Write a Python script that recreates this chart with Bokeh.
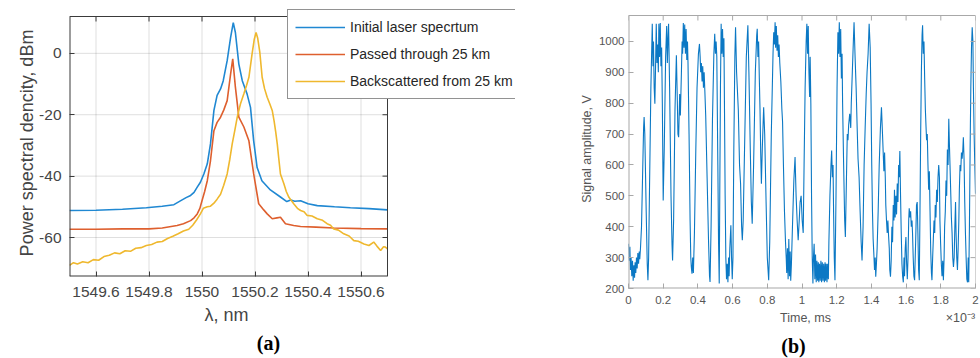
from bokeh.plotting import figure
from bokeh.models import Range1d, FixedTicker, Legend, LegendItem, LinearAxis
from bokeh.layouts import row
from bokeh.embed import file_html
from bokeh.resources import INLINE

# ---------------- Panel (a): spectra ----------------
wl_initial = [1549.50, 1549.60, 1549.70, 1549.79, 1549.85, 1549.894, 1549.92, 1549.94, 1549.957,
              1549.97, 1549.982, 1549.994, 1550.007, 1550.02, 1550.032, 1550.045, 1550.057, 1550.07,
              1550.08, 1550.095, 1550.108, 1550.118, 1550.126, 1550.139, 1550.152, 1550.17, 1550.183,
              1550.195, 1550.208, 1550.226, 1550.258, 1550.296, 1550.32, 1550.335, 1550.35, 1550.372,
              1550.40, 1550.435, 1550.50, 1550.56, 1550.63, 1550.70]
psd_initial = [-51.2, -51.1, -50.8, -50.3, -49.8, -49.3, -48.0, -47.0, -46.3,
               -45.3, -43.6, -42.0, -39.3, -36.0, -29.5, -18.6, -13.7, -11.6,
               -9.0, -2.4, 5.2, 10.0, 6.8, -3.5, -8.9, -13.2, -17.6,
               -28.5, -37.2, -41.5, -44.5, -46.8, -48.3, -47.8, -48.2, -48.0,
               -49.0, -49.6, -50.0, -50.3, -50.6, -51.0]

wl_passed = [1549.50, 1549.60, 1549.70, 1549.80, 1549.85, 1549.906, 1549.93, 1549.957, 1549.97,
             1549.982, 1549.992, 1550.0, 1550.01, 1550.02, 1550.032, 1550.045, 1550.057, 1550.07,
             1550.082, 1550.095, 1550.108, 1550.116, 1550.126, 1550.139, 1550.158, 1550.177,
             1550.195, 1550.214, 1550.233, 1550.246, 1550.265, 1550.283, 1550.296, 1550.315,
             1550.346, 1550.372, 1550.43, 1550.497, 1550.60, 1550.70]
psd_passed = [-57.3, -57.3, -57.2, -57.2, -56.9, -56.1, -55.5, -54.5, -53.6,
              -52.3, -50.5, -48.0, -45.0, -41.5, -35.0, -25.2, -22.5, -20.8,
              -18.5, -15.4, -6.7, -1.8, -11.0, -20.8, -24.0, -28.5,
              -39.3, -49.0, -51.0, -52.3, -53.9, -53.6, -53.4, -55.5,
              -56.1, -56.4, -56.6, -56.9, -57.1, -57.2]

wl_back = [1549.50, 1549.515, 1549.53, 1549.55, 1549.57, 1549.59, 1549.61, 1549.63, 1549.65, 1549.67,
           1549.69, 1549.71, 1549.73, 1549.75, 1549.77, 1549.79, 1549.81, 1549.83, 1549.85, 1549.87,
           1549.89, 1549.91, 1549.93, 1549.95, 1549.965, 1549.98, 1549.994, 1550.005, 1550.02, 1550.032,
           1550.045, 1550.057, 1550.07, 1550.082, 1550.095, 1550.105, 1550.114, 1550.124, 1550.133,
           1550.145, 1550.158, 1550.168, 1550.177, 1550.189, 1550.197, 1550.204, 1550.21, 1550.218,
           1550.227, 1550.236, 1550.246, 1550.256, 1550.265, 1550.272, 1550.278, 1550.284, 1550.29,
           1550.296, 1550.309, 1550.318, 1550.328, 1550.346, 1550.36, 1550.372, 1550.385, 1550.397,
           1550.415, 1550.435, 1550.455, 1550.472, 1550.485, 1550.497, 1550.515, 1550.535, 1550.555,
           1550.573, 1550.59, 1550.611, 1550.63, 1550.648, 1550.66, 1550.674, 1550.685, 1550.692, 1550.70]
psd_back = [-69.1, -68.2, -68.6, -67.9, -68.2, -67.2, -67.4, -66.2, -65.8, -65.0,
            -65.3, -64.3, -64.5, -63.5, -63.3, -62.6, -62.3, -61.5, -61.3, -60.3,
            -59.6, -58.8, -57.9, -57.3, -56.0, -54.2, -52.3, -50.5, -50.0, -49.8,
            -48.8, -47.5, -45.9, -43.0, -39.3, -34.5, -29.5, -25.0, -20.8,
            -16.5, -13.2, -10.5, -7.8, -0.2, 4.5, 6.8, 5.0, 0.5,
            -7.8, -11.5, -14.3, -16.5, -18.6, -22.0, -25.5, -29.5, -34.5,
            -39.3, -42.5, -45.0, -46.9, -49.0, -50.5, -51.2, -51.6, -52.8,
            -53.0, -53.9, -54.4, -55.5, -56.0, -57.2, -57.6, -58.8, -59.5,
            -61.0, -61.2, -62.1, -62.6, -61.5, -62.8, -64.2, -63.0, -63.1, -63.7]

a_xlim = (1549.5, 1550.7)
a_ylim = (-72.7, 12.0)
a_xticks = [1549.6, 1549.8, 1550.0, 1550.2, 1550.4, 1550.6]
a_xtick_labels = ["1549.6", "1549.8", "1550", "1550.2", "1550.4", "1550.6"]
a_yticks = [-60, -40, -20, 0]
a_ytick_labels = ["-60", "-40", "-20", "0"]
legend_labels = ["Initial laser specrtum", "Passed through 25 km", "Backscattered from 25 km"]

# ---------------- Panel (b): signal ----------------
time_e3 = [0.000, 0.004, 0.008, 0.011, 0.015, 0.019, 0.023, 0.027, 0.031, 0.035, 0.038, 0.042, 0.046,
           0.050, 0.054, 0.058, 0.062, 0.065, 0.069, 0.075, 0.081, 0.087, 0.090, 0.094, 0.102, 0.108,
           0.112, 0.116, 0.121, 0.129, 0.137, 0.141, 0.144, 0.148, 0.152, 0.156, 0.160, 0.164, 0.168,
           0.172, 0.175, 0.179, 0.183, 0.187, 0.191, 0.195, 0.200, 0.206, 0.214, 0.220, 0.224, 0.227,
           0.231, 0.237, 0.245, 0.251, 0.254, 0.260, 0.268, 0.276, 0.281, 0.285, 0.289, 0.295, 0.299,
           0.305, 0.309, 0.312, 0.316, 0.320, 0.324, 0.328, 0.332, 0.336, 0.340, 0.343, 0.349, 0.355,
           0.359, 0.362, 0.366, 0.370, 0.374, 0.380, 0.388, 0.395, 0.403, 0.409, 0.413, 0.416, 0.420,
           0.424, 0.428, 0.432, 0.436, 0.440, 0.445, 0.453, 0.461, 0.467, 0.470, 0.476, 0.484, 0.492,
           0.497, 0.501, 0.505, 0.509, 0.515, 0.519, 0.523, 0.526, 0.530, 0.534, 0.538, 0.542, 0.546,
           0.550, 0.553, 0.557, 0.561, 0.565, 0.569, 0.573, 0.577, 0.580, 0.584, 0.590, 0.594, 0.598,
           0.602, 0.607, 0.613, 0.617, 0.623, 0.633, 0.640, 0.646, 0.652, 0.656, 0.661, 0.679, 0.688,
           0.694, 0.702, 0.708, 0.713, 0.721, 0.731, 0.739, 0.742, 0.746, 0.750, 0.754, 0.758, 0.762,
           0.766, 0.771, 0.779, 0.785, 0.793, 0.800, 0.808, 0.814, 0.823, 0.833, 0.837, 0.841, 0.845,
           0.848, 0.852, 0.856, 0.860, 0.864, 0.868, 0.872, 0.878, 0.884, 0.888, 0.893, 0.899, 0.905,
           0.909, 0.912, 0.916, 0.920, 0.924, 0.928, 0.932, 0.935, 0.939, 0.945, 0.953, 0.960, 0.966,
           0.972, 0.978, 0.984, 0.989, 0.995, 1.001, 1.007, 1.012, 1.018, 1.024, 1.028, 1.032, 1.036,
           1.040, 1.044, 1.047, 1.051, 1.055, 1.059, 1.063, 1.066, 1.070, 1.074, 1.078, 1.082, 1.086,
           1.090, 1.094, 1.097, 1.101, 1.105, 1.109, 1.113, 1.117, 1.121, 1.125, 1.129, 1.133, 1.136,
           1.140, 1.144, 1.148, 1.152, 1.155, 1.161, 1.167, 1.171, 1.175, 1.179, 1.182, 1.186, 1.190,
           1.196, 1.202, 1.207, 1.211, 1.215, 1.219, 1.223, 1.227, 1.231, 1.234, 1.240, 1.246, 1.250,
           1.256, 1.261, 1.265, 1.269, 1.275, 1.281, 1.284, 1.290, 1.296, 1.300, 1.306, 1.312, 1.318,
           1.323, 1.329, 1.335, 1.341, 1.346, 1.352, 1.358, 1.364, 1.370, 1.375, 1.381, 1.387, 1.393,
           1.398, 1.402, 1.406, 1.410, 1.414, 1.418, 1.422, 1.425, 1.429, 1.433, 1.439, 1.445, 1.452,
           1.458, 1.464, 1.468, 1.472, 1.476, 1.480, 1.483, 1.487, 1.491, 1.495, 1.499, 1.503, 1.506,
           1.510, 1.514, 1.518, 1.522, 1.526, 1.530, 1.533, 1.537, 1.541, 1.545, 1.549, 1.553, 1.557,
           1.560, 1.564, 1.568, 1.572, 1.576, 1.580, 1.584, 1.588, 1.591, 1.595, 1.599, 1.603, 1.607,
           1.611, 1.615, 1.618, 1.622, 1.626, 1.630, 1.634, 1.637, 1.641, 1.645, 1.649, 1.655, 1.660,
           1.664, 1.668, 1.672, 1.676, 1.680, 1.684, 1.688, 1.692, 1.695, 1.699, 1.703, 1.707, 1.711,
           1.715, 1.718, 1.722, 1.726, 1.730, 1.734, 1.738, 1.742, 1.746, 1.749, 1.753, 1.757, 1.761,
           1.765, 1.768, 1.772, 1.776, 1.780, 1.784, 1.788, 1.792, 1.795, 1.799, 1.803, 1.807, 1.811,
           1.815, 1.819, 1.822, 1.826, 1.830, 1.834, 1.838, 1.842, 1.846, 1.849, 1.853, 1.858, 1.861,
           1.865, 1.869, 1.873, 1.877, 1.881, 1.885, 1.888, 1.892, 1.896, 1.900, 1.904, 1.907, 1.911,
           1.915, 1.919, 1.923, 1.927, 1.930, 1.934, 1.938, 1.942, 1.946, 1.950, 1.954, 1.958, 1.961,
           1.965, 1.969, 1.973, 1.977, 1.981, 1.985, 1.988, 1.992, 1.996, 2.000]
amplitude = [345, 290, 335, 260, 300, 240, 290, 225, 275, 235, 285, 250, 300,
             265, 315, 280, 320, 295, 330, 400, 560, 720, 755, 700, 450, 280,
             227, 300, 520, 850, 1057, 920, 1000, 850, 798, 920, 1057, 930, 990,
             900, 1057, 950, 1060, 920, 980, 800, 485, 650, 950, 1050, 930, 1000,
             1057, 850, 500, 340, 291, 420, 780, 955, 820, 700, 690, 830, 760,
             900, 1000, 960, 1060, 980, 1055, 960, 1040, 940, 1000, 930, 700, 420,
             300, 270, 248, 300, 250, 380, 650, 850, 960, 992, 950, 900, 930,
             870, 920, 850, 900, 840, 760, 560, 360, 240, 221, 400, 750, 960,
             1025, 960, 1000, 950, 600, 350, 216, 500, 850, 1057, 960, 1040, 950,
             1010, 800, 500, 300, 230, 280, 220, 300, 240, 330, 405, 300, 230,
             300, 650, 950, 1046, 900, 777, 600, 539, 400, 356, 420, 950, 1052,
             900, 650, 480, 410, 600, 900, 1020, 1041, 950, 1000, 880, 780, 640,
             539, 650, 787, 700, 480, 300, 227, 350, 700, 960, 1030, 990, 1062,
             980, 1050, 970, 1020, 950, 990, 930, 870, 780, 740, 600, 450, 350,
             300, 250, 330, 230, 360, 240, 320, 225, 280, 400, 550, 626, 500,
             420, 356, 420, 480, 500, 420, 380, 600, 850, 1000, 1057, 960, 1050,
             900, 820, 950, 800, 500, 300, 216, 300, 345, 230, 310, 220, 290,
             225, 285, 220, 280, 225, 290, 220, 285, 225, 280, 220, 285, 225,
             280, 220, 280, 230, 350, 500, 600, 647, 560, 600, 450, 300, 227,
             500, 850, 1030, 960, 1062, 950, 1040, 880, 960, 800, 600, 420, 367,
             550, 700, 680, 730, 766, 720, 800, 900, 1000, 1062, 950, 850, 720,
             620, 561, 450, 350, 291, 400, 600, 720, 830, 900, 960, 1057, 980,
             800, 600, 453, 360, 313, 260, 300, 238, 280, 330, 450, 600, 720,
             787, 700, 640, 580, 640, 560, 470, 420, 380, 420, 370, 330, 260,
             238, 290, 400, 350, 470, 420, 520, 430, 500, 440, 540, 480, 600,
             560, 645, 500, 380, 280, 240, 220, 300, 240, 330, 367, 280, 230,
             300, 420, 460, 430, 450, 400, 420, 380, 300, 240, 227, 350, 470,
             480, 380, 260, 227, 450, 700, 900, 1020, 1052, 960, 1000, 880, 780,
             722, 680, 700, 600, 520, 580, 450, 320, 250, 227, 300, 360, 420,
             380, 470, 430, 520, 480, 560, 600, 560, 420, 345, 280, 240, 290,
             227, 300, 400, 450, 550, 500, 650, 600, 750, 680, 600, 496, 430,
             380, 300, 270, 300, 400, 480, 380, 300, 260, 330, 420, 520, 600,
             580, 640, 620, 650, 690, 620, 480, 380, 300, 230, 220, 300, 220,
             400, 650, 850, 980, 1046, 1000, 850, 700, 600, 507]

b_xlim = (0.0, 2.0)
b_ylim = (200.0, 1084.0)
b_xticks = [0, 0.2, 0.4, 0.6, 0.8, 1.0, 1.2, 1.4, 1.6, 1.8, 2.0]
b_xtick_labels = ["0", "0.2", "0.4", "0.6", "0.8", "1", "1.2", "1.4", "1.6", "1.8", "2"]
b_yticks = [200, 300, 400, 500, 600, 700, 800, 900, 1000]
b_ytick_labels = ["200", "300", "400", "500", "600", "700", "800", "900", "1000"]

FONT = "Liberation Sans"
SERIF = "Liberation Serif"
TICK_PX = 5
TOP = 9          # common top border of both figures (frames are top-aligned in a row)


def style_axis(ax, ticks, labels, color, size, line_color, standoff):
    ax.ticker = FixedTicker(ticks=ticks)
    ax.major_label_overrides = {t: l for t, l in zip(ticks, labels)}
    ax.major_tick_in = TICK_PX
    ax.major_tick_out = 0
    ax.minor_tick_in = 0
    ax.minor_tick_out = 0
    ax.axis_line_color = None
    ax.major_tick_line_color = line_color
    ax.major_label_text_font = FONT
    ax.major_label_text_color = color
    ax.major_label_text_font_size = size
    ax.major_label_standoff = standoff


def text_axis(ticks, labels, font, size, color, standoff, style="normal"):
    """an axis with no line and no tick marks, used only to set texts below the frame"""
    ticks = [round(t, 5) for t in ticks]
    return LinearAxis(ticker=FixedTicker(ticks=ticks),
                      major_label_overrides={t: l for t, l in zip(ticks, labels)},
                      major_tick_in=0, major_tick_out=0, minor_tick_in=0, minor_tick_out=0,
                      major_tick_line_color=None, minor_tick_line_color=None,
                      axis_line_color=None, major_label_standoff=standoff,
                      major_label_text_font=font, major_label_text_font_size=size,
                      major_label_text_font_style=style, major_label_text_color=color)


def axes_box(p, xr, yr, bw, bh, xticks, yticks, color):
    """box around the axes area (left/bottom sit on the frame edge) and inward top/right ticks"""
    p.segment(x0=[xr[0], xr[0]], y0=[yr[0], yr[0]], x1=[xr[1], xr[0]], y1=[yr[0], yr[1]],
              line_color=color, line_width=2)
    p.segment(x0=[xr[0], xr[1]], y0=[yr[1], yr[0]], x1=[xr[1], xr[1]], y1=[yr[1], yr[1]],
              line_color=color, line_width=1)
    ly = TICK_PX * (yr[1] - yr[0]) / bh
    lx = TICK_PX * (xr[1] - xr[0]) / bw
    p.segment(x0=xticks, y0=[yr[1]] * len(xticks), x1=xticks, y1=[yr[1] - ly] * len(xticks),
              line_color=color, line_width=1)
    p.segment(x0=[xr[1]] * len(yticks), y0=yticks, x1=[xr[1] - lx] * len(yticks), y1=yticks,
              line_color=color, line_width=1)


# ---------- figure (a) ----------
# axes box: 318 x 260 px at (69, 16); the frame is made larger (to the right and
# upward) so that the legend, which overlaps the box corner, is not clipped
A_LEFT = 69
A_BOX_W, A_BOX_H = 318, 260
A_FW, A_FH = 446, 267
a_px_x = A_BOX_W / (a_xlim[1] - a_xlim[0])
a_px_y = A_BOX_H / (a_ylim[1] - a_ylim[0])
A_XR = (a_xlim[0], a_xlim[0] + A_FW / a_px_x)
A_YR = (a_ylim[0], a_ylim[0] + A_FH / a_px_y)
pa = figure(frame_width=A_FW, frame_height=A_FH, min_border_left=A_LEFT,
            min_border_right=530 - A_LEFT - A_FW, min_border_top=TOP,
            min_border_bottom=358 - TOP - A_FH, align="start",
            x_range=Range1d(*A_XR), y_range=Range1d(*A_YR),
            output_backend="svg", toolbar_location=None)
pa.title.visible = False
A_LINE = "#3a3a3a"
A_TXT = "#454545"
pa.outline_line_color = None
pa.grid.visible = False
style_axis(pa.xaxis[0], a_xticks, a_xtick_labels, A_TXT, "15.5px", A_LINE, 10)
style_axis(pa.yaxis[0], a_yticks, a_ytick_labels, A_TXT, "15.5px", A_LINE, 8)
pa.yaxis[0].axis_label = "Power spectral dencity, dBm"
pa.yaxis[0].axis_label_text_font = FONT
pa.yaxis[0].axis_label_text_font_size = "18px"
pa.yaxis[0].axis_label_text_font_style = "normal"
pa.yaxis[0].axis_label_text_color = A_TXT
pa.yaxis[0].axis_label_standoff = -1

# grid lines limited to the axes box
GRID = dict(line_color="#262626", line_alpha=0.15, line_width=1)
pa.segment(x0=a_xticks, y0=[a_ylim[0]] * len(a_xticks), x1=a_xticks, y1=[a_ylim[1]] * len(a_xticks), **GRID)
pa.segment(x0=[a_xlim[0]] * len(a_yticks), y0=a_yticks, x1=[a_xlim[1]] * len(a_yticks), y1=a_yticks, **GRID)

r1 = pa.line(wl_initial, psd_initial, line_color="#2088d2", line_width=1.6)
r2 = pa.line(wl_passed, psd_passed, line_color="#de5f2e", line_width=1.6)
r3 = pa.line(wl_back, psd_back, line_color="#efb82e", line_width=1.6)

axes_box(pa, a_xlim, a_ylim, A_BOX_W, A_BOX_H, a_xticks, a_yticks, A_LINE)

legend = Legend(items=[LegendItem(label=legend_labels[0], renderers=[r1]),
                       LegendItem(label=legend_labels[1], renderers=[r2]),
                       LegendItem(label=legend_labels[2], renderers=[r3])],
                location=(287 - A_LEFT, A_FH + TOP - 11 - 88), glyph_width=50, glyph_height=20,
                label_height=20, label_standoff=5, spacing=7, padding=7, margin=0,
                border_line_color="#262626", border_line_width=1,
                label_text_font=FONT, label_text_font_size="14px", label_text_color="#262626",
                background_fill_color="white", background_fill_alpha=1.0)
pa.add_layout(legend)


def ax_px(px):
    return A_XR[0] + (px - A_LEFT) / a_px_x


pa.add_layout(text_axis([ax_px(226)], ["λ, nm"], FONT, "18px", A_TXT, 5), "below")
pa.add_layout(text_axis([ax_px(268)], ["(a)"], SERIF, "20px", "black", 4, "bold"), "below")

# ---------- figure (b) ----------
# axes box: 347 x 273 px at (628, 15); frame starts at the common top border
B_LEFT = 98
B_BOX_W, B_BOX_H = 347, 273
B_BOX_TOP = 15
B_FW, B_FH = B_BOX_W, B_BOX_H + (B_BOX_TOP - TOP)
b_px_y = B_BOX_H / (b_ylim[1] - b_ylim[0])
B_XR = b_xlim
B_YR = (b_ylim[0], b_ylim[0] + B_FH / b_px_y)
pb = figure(frame_width=B_FW, frame_height=B_FH, min_border_left=B_LEFT, min_border_right=5,
            min_border_top=TOP, min_border_bottom=358 - TOP - B_FH, align="start",
            x_range=Range1d(*B_XR), y_range=Range1d(*B_YR),
            output_backend="svg", toolbar_location=None)
pb.title.visible = False
B_LINE = "#a8a8a8"
B_TXT = "#555555"
pb.outline_line_color = None
pb.grid.visible = False
style_axis(pb.xaxis[0], b_xticks, b_xtick_labels, B_TXT, "11.5px", B_LINE, 7)
style_axis(pb.yaxis[0], b_yticks, b_ytick_labels, B_TXT, "11.5px", B_LINE, 4)
pb.yaxis[0].axis_label = "Signal amplitude, V"
pb.yaxis[0].axis_label_text_font = FONT
pb.yaxis[0].axis_label_text_font_size = "12.5px"
pb.yaxis[0].axis_label_text_font_style = "normal"
pb.yaxis[0].axis_label_text_color = B_TXT
pb.yaxis[0].axis_label_standoff = 2

pb.line(time_e3, amplitude, line_color="#0b78c4", line_width=1.1)
axes_box(pb, b_xlim, b_ylim, B_BOX_W, B_BOX_H, b_xticks, b_yticks, B_LINE)


def bx_px(px):
    return B_XR[0] + (px - (530 + B_LEFT)) * (B_XR[1] - B_XR[0]) / B_FW


pb.add_layout(text_axis([bx_px(805), bx_px(960)], ["Time, ms", "×10⁻³"], FONT, "12.5px", B_TXT, 4),
              "below")
pb.add_layout(text_axis([bx_px(793)], ["(b)"], SERIF, "20px", "black", 7, "bold"), "below")

layout = row(pa, pb)
open("out.html", "w").write(file_html(layout, INLINE))
